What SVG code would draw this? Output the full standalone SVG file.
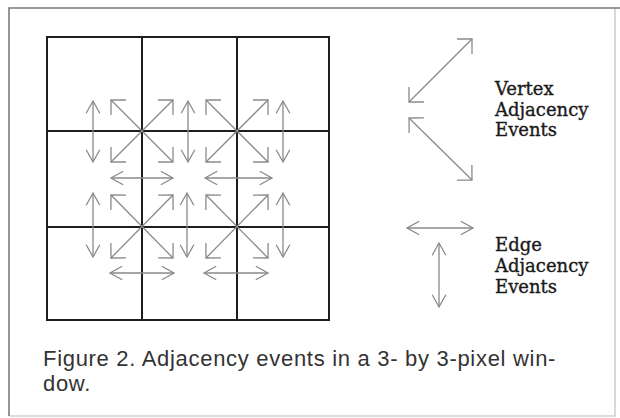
<svg xmlns="http://www.w3.org/2000/svg" width="620" height="418" viewBox="0 0 620 418">
  <style>
    .grid { stroke: #1e1e1e; stroke-width: 2; fill: none; stroke-linecap: square; }
    .frame { stroke: #7a7a7a; stroke-width: 1.6; fill: none; }
    .diag { stroke: #8a8a8a; stroke-width: 1.3; fill: none; marker-start: url(#hd); marker-end: url(#hd); }
    .orth { stroke: #8a8a8a; stroke-width: 1.3; fill: none; marker-start: url(#ho); marker-end: url(#ho); }
    .legend { font-family: "DejaVu Serif", "Liberation Serif", serif; font-size: 18px; fill: #1a1a1a; stroke: #1a1a1a; stroke-width: 0.35; }
    .caption { font-family: "Liberation Sans", Arial, sans-serif; font-size: 22px; letter-spacing: 0.7px; fill: #333; }
  </style>
  <defs>
    <marker id="hd" markerUnits="userSpaceOnUse" orient="auto-start-reverse" overflow="visible" markerWidth="1" markerHeight="1">
      <path d="M-10.6,-10.6 L0,0 L-10.6,10.6" fill="none" stroke="#8a8a8a" stroke-width="1.3"/>
    </marker>
    <marker id="ho" markerUnits="userSpaceOnUse" orient="auto-start-reverse" overflow="visible" markerWidth="1" markerHeight="1">
      <path d="M-12.2,-6.8 L0,0 L-12.2,6.8" fill="none" stroke="#8a8a8a" stroke-width="1.3"/>
    </marker>
  </defs>
  <rect width="620" height="418" fill="#ffffff"/>
  <g id="frame">
    <path class="frame" d="M9,416 L9,8 L620,8"/>
    <path class="frame" d="M9,416 L615,416 L615,8" stroke-opacity="0.35"/>
  </g>
  <g id="grid">
    <rect class="grid" x="47" y="37" width="282" height="283"/>
    <line class="grid" x1="142" y1="37" x2="142" y2="320"/>
    <line class="grid" x1="237" y1="37" x2="237" y2="320"/>
    <line class="grid" x1="47" y1="131" x2="329" y2="131"/>
    <line class="grid" x1="47" y1="227" x2="329" y2="227"/>
  </g>
  <g id="connectors">
    <line class="diag" x1="111" y1="100" x2="173" y2="162"/>
    <line class="diag" x1="173" y1="100" x2="111" y2="162"/>
    <line class="diag" x1="206" y1="100" x2="268" y2="162"/>
    <line class="diag" x1="268" y1="100" x2="206" y2="162"/>
    <line class="diag" x1="111" y1="195" x2="173" y2="258"/>
    <line class="diag" x1="173" y1="195" x2="111" y2="258"/>
    <line class="diag" x1="206" y1="195" x2="268" y2="258"/>
    <line class="diag" x1="268" y1="195" x2="206" y2="258"/>
    <line class="orth" x1="93" y1="101" x2="93" y2="162"/>
    <line class="orth" x1="188" y1="101" x2="188" y2="162"/>
    <line class="orth" x1="283" y1="101" x2="283" y2="162"/>
    <line class="orth" x1="93" y1="193" x2="93" y2="257"/>
    <line class="orth" x1="187" y1="193" x2="187" y2="257"/>
    <line class="orth" x1="283" y1="193" x2="283" y2="257"/>
    <line class="orth" x1="111" y1="178" x2="173" y2="178"/>
    <line class="orth" x1="205" y1="178" x2="272" y2="178"/>
    <line class="orth" x1="110" y1="273" x2="174" y2="273"/>
    <line class="orth" x1="204" y1="273" x2="268" y2="273"/>
    <line class="diag" x1="409" y1="102" x2="472" y2="39"/>
    <line class="diag" x1="409" y1="118" x2="472" y2="180"/>
    <line class="orth" x1="407" y1="228" x2="473" y2="228"/>
    <line class="orth" x1="439" y1="243" x2="439" y2="307"/>
  </g>
  <g id="vertex-legend">
    <text class="legend" x="495" y="95">Vertex</text>
    <text class="legend" x="495" y="115.5">Adjacency</text>
    <text class="legend" x="495" y="136">Events</text>
  </g>
  <g id="edge-legend">
    <text class="legend" x="495" y="251">Edge</text>
    <text class="legend" x="495" y="272">Adjacency</text>
    <text class="legend" x="495" y="293">Events</text>
  </g>
  <g id="caption">
    <text class="caption" x="43" y="366">Figure 2. Adjacency events in a 3- by 3-pixel win-</text>
    <text class="caption" x="43" y="391">dow.</text>
  </g>
</svg>
